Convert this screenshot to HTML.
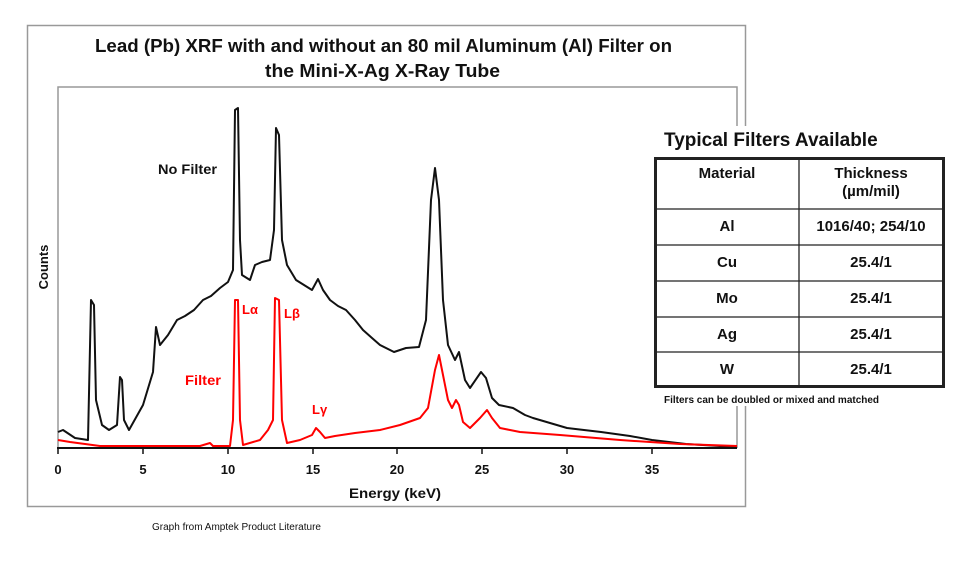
<!DOCTYPE html>
<html><head><meta charset="utf-8"><style>
body{margin:0;background:#fff;width:964px;height:561px;overflow:hidden;font-family:"Liberation Sans",Arial,sans-serif}
</style></head><body>
<svg width="964" height="561" xmlns="http://www.w3.org/2000/svg" style="position:absolute;left:0;top:0" font-family="Liberation Sans, Arial, sans-serif">
<rect x="27.5" y="25.5" width="718" height="481" fill="#fff" stroke="#999" stroke-width="1.5"/>
<text x="95" y="52" font-size="18" font-weight="bold" fill="#111" textLength="577" lengthAdjust="spacingAndGlyphs">Lead (Pb) XRF with and without an 80 mil Aluminum (Al) Filter on</text>
<text x="265" y="77" font-size="18" font-weight="bold" fill="#111" textLength="235" lengthAdjust="spacingAndGlyphs">the Mini-X-Ag X-Ray Tube</text>
<polyline points="58,448 58,87 737,87 737,448" fill="none" stroke="#999" stroke-width="1.5"/>
<line x1="57" y1="448" x2="737" y2="448" stroke="#111" stroke-width="2"/>
<g stroke="#111" stroke-width="1.5">
<line x1="58" y1="448" x2="58" y2="454"/><line x1="143" y1="448" x2="143" y2="454"/><line x1="228" y1="448" x2="228" y2="454"/><line x1="313" y1="448" x2="313" y2="454"/><line x1="397" y1="448" x2="397" y2="454"/><line x1="482" y1="448" x2="482" y2="454"/><line x1="567" y1="448" x2="567" y2="454"/><line x1="652" y1="448" x2="652" y2="454"/>
</g>
<g font-size="13" font-weight="bold" fill="#111" text-anchor="middle">
<text x="58" y="474">0</text><text x="143" y="474">5</text><text x="228" y="474">10</text><text x="313" y="474">15</text><text x="397" y="474">20</text><text x="482" y="474">25</text><text x="567" y="474">30</text><text x="652" y="474">35</text>
</g>
<text x="349" y="498" font-size="14" font-weight="bold" fill="#111" textLength="92" lengthAdjust="spacingAndGlyphs">Energy (keV)</text>
<text transform="translate(48,267) rotate(-90)" text-anchor="middle" font-size="13" font-weight="bold" fill="#111">Counts</text>
<polyline fill="none" stroke="#111" stroke-width="2" stroke-linejoin="round" points="58,432 63,430 75,438 88,440 91,300 94,305 96,400 102,425 109,430 117,425 120,377 122,380 124,420 129,430 143,405 153,372 156,327 160,345 168,335 177,320 185,316 194,310 203,300 211,296 220,288 228,282 233,270 235,110 238,108 240,240 242,275 250,280 255,265 262,262 270,260 274,230 276,128 279,135 282,240 287,265 296,280 304,285 312,290 318,279 323,290 330,300 338,306 346,310 355,320 363,330 372,338 380,345 394,352 406,348 419,347 426,320 431,200 435,168 439,200 443,300 448,345 455,360 459,352 465,380 470,388 481,372 486,378 492,398 499,405 513,408 525,415 533,418 550,423 567,428 601,432 630,436 652,440 686,444 737,447"/>
<polyline fill="none" stroke="#f00" stroke-width="2" stroke-linejoin="round" points="58,440 70,442 100,446 200,446 210,443 213,446 230,446 233,420 235,300 238,300 240,420 243,445 260,440 268,430 273,420 275,298 279,300 282,420 287,443 300,440 312,435 316,428 320,432 325,438 335,436 355,433 380,430 400,425 420,418 428,408 435,370 439,355 443,375 448,400 452,408 456,400 459,405 463,422 470,428 480,418 487,410 492,418 500,428 510,430 520,432 560,435 620,440 680,444 737,446"/>
<text x="158" y="174" font-size="14" font-weight="bold" fill="#111" textLength="59" lengthAdjust="spacingAndGlyphs">No Filter</text>
<text x="185" y="385" font-size="14" font-weight="bold" fill="#f00" textLength="36" lengthAdjust="spacingAndGlyphs">Filter</text>
<text x="242" y="314" font-size="13" font-weight="bold" fill="#f00">Lα</text>
<text x="284" y="318" font-size="13" font-weight="bold" fill="#f00">Lβ</text>
<text x="312" y="414" font-size="13" font-weight="bold" fill="#f00">Lγ</text>
<text x="152" y="530" font-size="10" fill="#111">Graph from Amptek Product Literature</text>
<rect x="652" y="126" width="300" height="280" fill="#fff"/>
<text x="664" y="146" font-size="19" font-weight="bold" fill="#111">Typical Filters Available</text>
<rect x="655.5" y="158.5" width="288" height="228" fill="#fff" stroke="#222" stroke-width="3"/>
<g stroke="#222" stroke-width="1.3">
<line x1="799" y1="158" x2="799" y2="387"/>
<line x1="656" y1="209" x2="943" y2="209"/><line x1="656" y1="245" x2="943" y2="245"/><line x1="656" y1="281" x2="943" y2="281"/><line x1="656" y1="317" x2="943" y2="317"/><line x1="656" y1="352" x2="943" y2="352"/>
</g>
<g font-size="15" font-weight="bold" fill="#111" text-anchor="middle">
<text x="727" y="178">Material</text><text x="871" y="178">Thickness</text><text x="871" y="196">(µm/mil)</text>
<text x="727" y="231">Al</text><text x="871" y="231">1016/40; 254/10</text>
<text x="727" y="267">Cu</text><text x="871" y="267">25.4/1</text>
<text x="727" y="303">Mo</text><text x="871" y="303">25.4/1</text>
<text x="727" y="339">Ag</text><text x="871" y="339">25.4/1</text>
<text x="727" y="374">W</text><text x="871" y="374">25.4/1</text>
</g>
<text x="664" y="403" font-size="10" font-weight="bold" fill="#111">Filters can be doubled or mixed and matched</text>
</svg>
</body></html>
